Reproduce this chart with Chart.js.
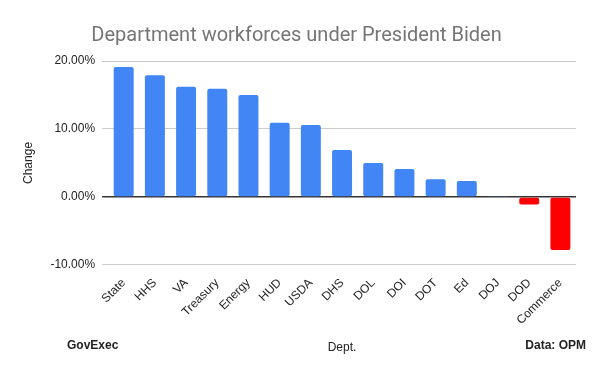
<!DOCTYPE html>
<html>
<head>
<meta charset="utf-8">
<script src="https://cdn.jsdelivr.net/npm/chart.js@4"></script>
<style>
  html, body { margin: 0; padding: 0; background: #fff; }
  #wrap { width: 600px; height: 371px; }
</style>
</head>
<body>
<div id="wrap"><canvas id="chart"></canvas></div>
<script>
// Data (percent change)
const depts = ['State', 'HHS', 'VA', 'Treasury', 'Energy', 'HUD', 'USDA', 'DHS', 'DOL', 'DOI', 'DOT', 'Ed', 'DOJ', 'DOD', 'Commerce'];
const changes = [19.1, 17.9, 16.2, 15.9, 15.0, 10.9, 10.6, 6.9, 5.0, 4.1, 2.6, 2.35, 0.15, -1.1, -7.8];
const yTicks = [-10, 0, 10, 20];

const blue = '#4285F4';
const red = '#FF0000';

// footer texts left and right of the axis title
const footerPlugin = {
    id: 'footer',
    afterDraw(chart) {
        const ctx = chart.ctx;
        ctx.save();
        ctx.font = 'bold 12px "Liberation Sans", Arial, sans-serif';
        ctx.fillStyle = '#222';
        ctx.textBaseline = 'middle';
        ctx.textAlign = 'left';
        ctx.fillText('GovExec', 67, 346);
        ctx.textAlign = 'right';
        ctx.fillText('Data: OPM', 586, 346);
        ctx.restore();
    }
};

const ctx = document.getElementById('chart').getContext('2d');
new Chart(ctx, {
    type: 'bar',
    data: {
        labels: depts,
        datasets: [{
            data: changes,
            backgroundColor: changes.map(v => v < 0 ? red : blue),
            borderRadius: 2,
            borderSkipped: false,
            barPercentage: 0.64,
            categoryPercentage: 1
        }]
    },
    options: {
        responsive: true,
        maintainAspectRatio: false,
        animation: false,
        layout: { padding: { top: 20, right: 24, bottom: 12, left: 17 } },
        plugins: {
            legend: { display: false },
            tooltip: { enabled: false },
            title: {
                display: true,
                text: 'Department workforces under President Biden',
                color: '#757575',
                font: { family: 'Roboto, Arial, sans-serif', size: 20, weight: 'normal' },
                padding: { top: 4, bottom: 13 }
            }
        },
        scales: {
            x: {
                grid: { display: false },
                border: { display: false },
                ticks: {
                    color: '#222',
                    font: { family: '"Liberation Sans", Arial, sans-serif', size: 12 },
                    minRotation: 45,
                    maxRotation: 45,
                    autoSkip: false
                },
                title: {
                    display: true,
                    text: 'Dept.',
                    color: '#222',
                    font: { family: '"Liberation Sans", Arial, sans-serif', size: 12 },
                    padding: { top: 10 }
                }
            },
            y: {
                min: -10,
                max: 20,
                afterBuildTicks: axis => { axis.ticks = yTicks.map(v => ({ value: v })); },
                grid: {
                    color: c => c.tick && c.tick.value === 0 ? '#333' : '#ccc',
                    lineWidth: c => c.tick && c.tick.value === 0 ? 1.5 : 1,
                    tickLength: 6,
                    tickColor: c => c.tick && c.tick.value === 0 ? '#333' : '#ccc'
                },
                border: { display: false },
                ticks: {
                    color: '#222',
                    font: { family: '"Liberation Sans", Arial, sans-serif', size: 12 },
                    padding: 7,
                    callback: v => v.toFixed(2) + '%'
                },
                title: {
                    display: true,
                    text: 'Change',
                    color: '#222',
                    font: { family: '"Liberation Sans", Arial, sans-serif', size: 12 },
                    padding: { bottom: 8 }
                }
            }
        }
    },
    plugins: [footerPlugin]
});
</script>
</body>
</html>
